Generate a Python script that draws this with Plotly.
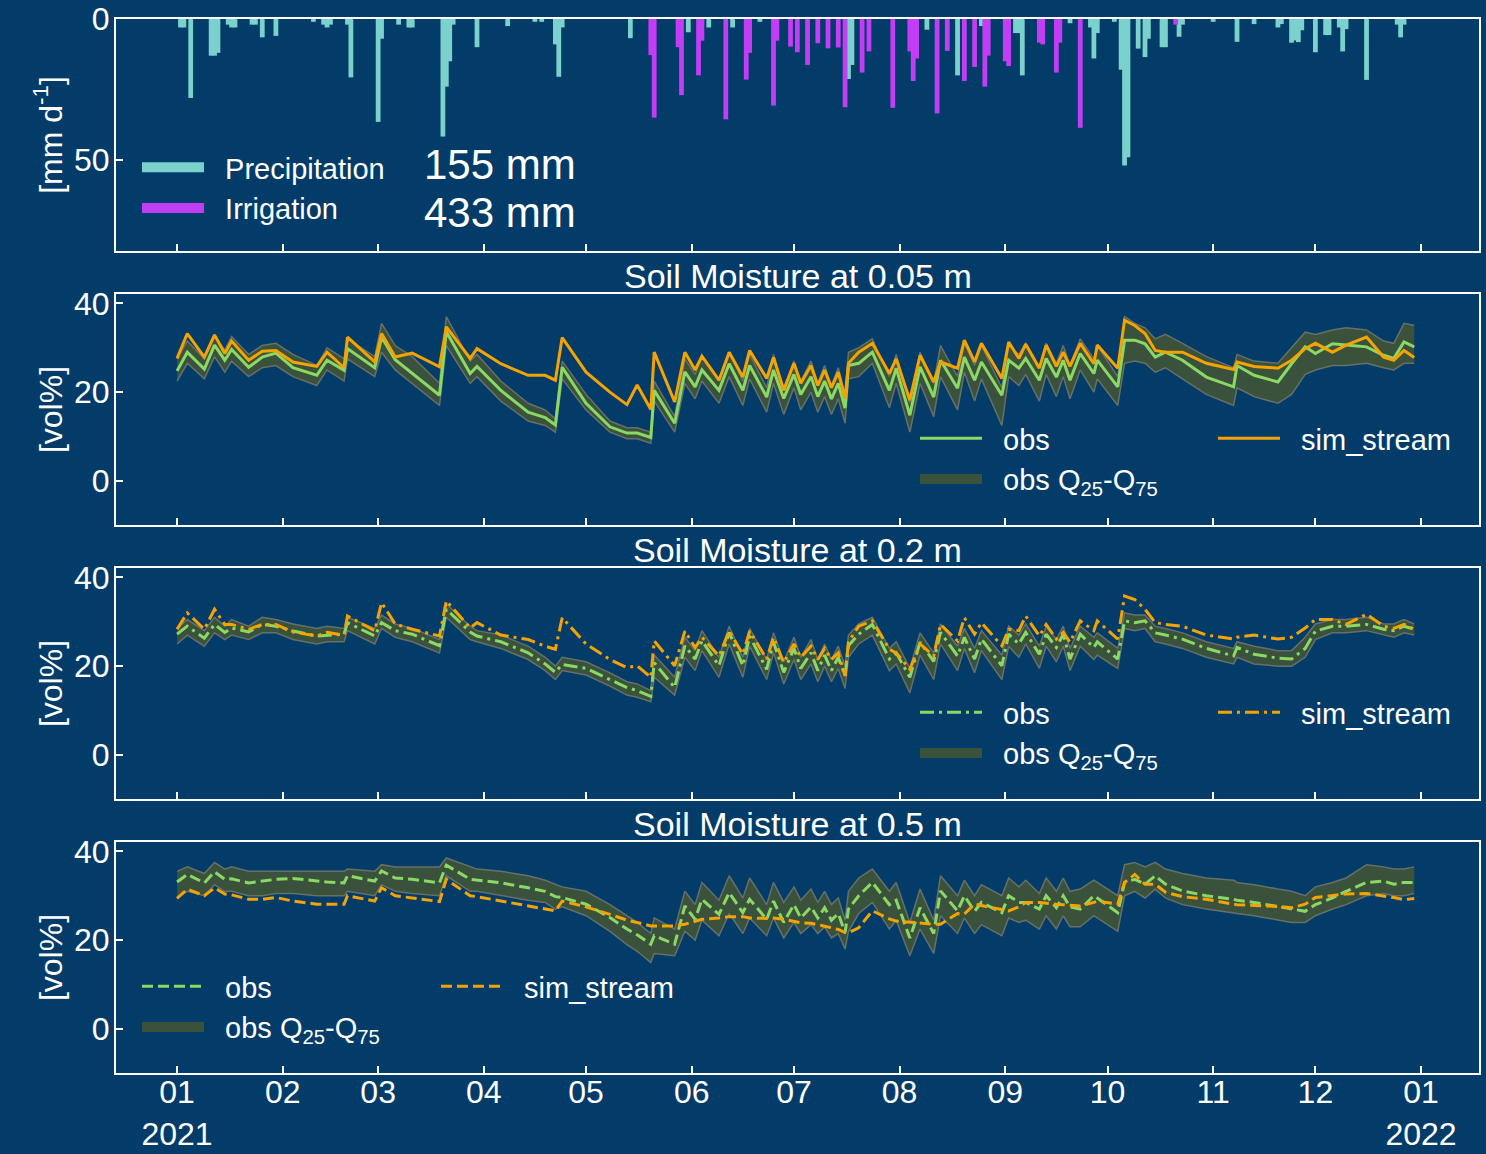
import plotly.graph_objects as go

W, H = 1486, 1154
BG = "#033C69"
FONT = "Liberation Sans, Arial, sans-serif"
WHITE = "#FFFFFF"
C_PREC = "#7BD1CC"
C_IRR = "#C23DF5"
C_OBS = "#8BD865"
C_SIM = "#F5A300"
C_BAND = "#3A513B"
C_EDGE = "#66706A"

# ---------------- daily water input [mm/d] ----------------
prec_days = ["01-02", "01-03", "01-05", "01-11", "01-12", "01-13", "01-16", "01-17", "01-18",
             "01-23", "01-24", "01-26", "01-30", "02-10", "02-13", "02-14", "02-15", "02-20",
             "02-21", "03-01", "03-02", "03-07", "03-10", "03-11", "03-20", "03-21", "03-22",
             "03-23", "03-30", "04-08", "04-16", "04-18", "04-22", "04-23", "04-24", "05-14",
             "05-31", "06-06", "06-13", "06-21", "07-17", "07-18", "08-09", "08-18", "08-25",
             "09-04", "09-05", "09-06", "09-20", "09-26", "09-27", "09-28", "10-03", "10-05",
             "10-06", "10-07", "10-10", "10-12", "10-13", "10-17", "10-18", "10-22", "10-23",
             "11-01", "11-08", "11-13", "11-20", "11-21", "11-24", "11-25", "11-26", "11-27",
             "12-01", "12-04", "12-05", "12-08", "12-09", "12-10", "12-16", "12-25", "12-26",
             "12-27"]
prec_vals = [3, 3, 28, 13, 13, 12, 2, 3, 3,
             2, 2, 6.5, 6, 1, 2, 3, 2, 2,
             20.7, 36.5, 7, 2, 3, 3, 41.7, 24, 15,
             2, 10, 2.5, 1, 1, 9, 20.5, 3, 6.8,
             4.7, 3, 3, 1, 21.3, 16.3, 3.8, 20, 2.5,
             5, 5, 20, 1.5, 3, 14, 5, 1, 18,
             52, 49, 10.5, 13.5, 7, 10, 10, 6.3, 2,
             1, 8.1, 1.8, 3, 1.8, 8.4, 7.6, 8.2, 4,
             11.8, 5.7, 5.7, 3, 11.5, 3.6, 21.6, 2, 6.5,
             2]

irr_days = ["05-20", "05-21", "05-28", "05-29", "06-03", "06-04", "06-11", "06-17", "06-18",
            "06-25", "06-26", "06-30", "07-02", "07-05", "07-08", "07-11", "07-14", "07-16",
            "07-21", "07-23", "07-30", "08-04", "08-05", "08-06", "08-12", "08-15", "08-20",
            "08-23", "08-26", "08-27", "09-01", "09-02", "09-11", "09-12", "09-16", "09-17",
            "09-23", "10-21"]
irr_vals = [12.8, 35, 10, 27, 20, 7.7, 35.6, 21.5, 12,
            30.7, 7.7, 9.8, 11.8, 16.3, 8.6, 10.4, 10.1, 31.3,
            19, 11.5, 31.5, 11.5, 22, 14, 33.5, 11.3, 22,
            17, 24, 13, 15, 16.7, 8.4, 9, 19, 8.4,
            38.6, 2]

# ---------------- soil moisture [vol%] ----------------
sm_days = ["01-01", "01-04", "01-09", "01-12", "01-15", "01-17", "01-22", "01-26", "01-30", "02-04",
           "02-11", "02-14", "02-19", "02-20", "02-28", "03-02", "03-06", "03-11", "03-19", "03-21",
           "03-28", "03-30", "04-06", "04-14", "04-19", "04-22", "04-24", "05-01", "05-08", "05-13",
           "05-16", "05-20", "05-21", "05-27", "05-30", "06-02", "06-04", "06-09", "06-12", "06-16",
           "06-18", "06-23", "06-25", "06-28", "07-01", "07-03", "07-06", "07-08", "07-10", "07-12",
           "07-14", "07-16", "07-17", "07-20", "07-24", "07-29", "07-31", "08-04", "08-07", "08-11",
           "08-13", "08-18", "08-20", "08-23", "08-25", "08-31", "09-02", "09-05", "09-07", "09-11",
           "09-13", "09-16", "09-18", "09-20", "09-23", "09-27", "09-28", "10-04", "10-06", "10-09",
           "10-12", "10-15", "10-18", "10-23", "10-30", "11-07", "11-08", "11-13", "11-20", "11-24",
           "11-28", "12-01", "12-06", "12-10", "12-16", "12-21", "12-24", "12-27", "12-30"]

# 0.05 m
obs_005 = [24.8, 29.0, 25.2, 30.6, 27.2, 29.6, 25.6, 27.9, 28.8, 25.5,
           23.8, 27.2, 24.9, 29.8, 25.5, 32.4, 27.3, 24.3, 19.3, 33.6,
           24.2, 25.8, 20.4, 15.5, 14.3, 12.6, 25.6, 17.5, 12.2, 10.8,
           10.8, 9.8, 20.4, 13.0, 24.6, 21.2, 25.0, 20.4, 26.4, 20.4,
           26.0, 18.9, 25.0, 18.6, 24.0, 19.5, 23.5, 19.0, 22.5, 18.5,
           22.0, 16.4, 26.0, 26.5, 29.0, 20.4, 25.4, 14.8, 25.7, 18.9,
           27.2, 20.9, 27.9, 22.7, 26.8, 19.3, 27.2, 25.4, 27.6, 22.7,
           27.6, 23.4, 27.2, 22.7, 28.7, 24.2, 27.2, 21.2, 31.7, 31.7,
           30.9, 27.9, 29.0, 27.2, 23.4, 21.2, 26.0, 23.8, 22.3, 26.4,
           30.2, 28.7, 30.9, 30.6, 30.2, 28.3, 27.6, 31.3, 30.2]
lo_005 = [22.5, 26.5, 23.0, 28.0, 24.5, 27.0, 23.5, 25.5, 26.0, 23.5,
          21.5, 25.0, 22.5, 27.5, 23.5, 29.0, 25.0, 22.0, 17.0, 30.5,
          22.0, 23.5, 18.0, 13.5, 12.5, 11.0, 23.0, 16.0, 11.0, 9.5,
          9.5, 8.5, 18.0, 11.0, 22.0, 18.5, 22.5, 17.5, 23.5, 17.0,
          23.0, 15.5, 22.0, 15.0, 21.0, 16.0, 20.0, 15.5, 19.0, 15.0,
          18.5, 13.0, 23.0, 23.5, 26.5, 16.5, 22.0, 11.0, 22.0, 14.5,
          23.5, 16.0, 24.5, 18.0, 23.0, 12.5, 23.5, 21.5, 24.0, 18.0,
          24.0, 19.0, 23.5, 18.5, 25.0, 20.0, 23.0, 17.0, 26.5, 27.0,
          26.5, 24.5, 25.5, 23.0, 19.5, 17.0, 21.0, 19.0, 17.5, 19.5,
          24.0, 25.0, 26.0, 26.0, 26.5, 25.5, 25.0, 26.5, 26.5]
hi_005 = [27.5, 31.5, 27.5, 32.5, 29.5, 32.5, 28.5, 30.5, 31.0, 28.5,
          26.0, 30.0, 27.5, 32.0, 28.0, 35.5, 30.5, 28.0, 22.0, 37.0,
          27.0, 28.5, 22.5, 17.5, 16.0, 14.0, 27.0, 19.5, 13.5, 12.0,
          12.0, 11.0, 22.5, 14.5, 27.5, 24.0, 28.0, 22.5, 29.0, 22.5,
          28.5, 21.0, 28.5, 21.0, 27.0, 22.5, 27.0, 22.0, 26.0, 21.5,
          25.5, 19.5, 29.0, 30.0, 32.0, 23.5, 28.5, 17.5, 29.0, 22.0,
          30.5, 23.5, 31.0, 26.0, 30.5, 21.0, 30.5, 28.5, 31.0, 25.5,
          31.0, 26.5, 30.5, 26.0, 32.0, 27.5, 30.5, 23.5, 37.0, 35.5,
          34.5, 32.0, 33.0, 31.0, 28.0, 25.5, 28.5, 27.0, 26.5, 30.0,
          33.5, 33.0, 34.0, 34.5, 34.0, 31.5, 31.0, 35.5, 35.0]
sim_005 = [27.6, 33.2, 27.9, 32.9, 28.7, 31.5, 27.2, 29.2, 29.4, 26.8,
           25.8, 29.0, 25.5, 32.4, 26.8, 33.2, 27.9, 28.8, 25.7, 34.7,
           27.6, 29.8, 26.4, 23.8, 23.8, 22.7, 32.3, 24.5, 20.0, 17.2,
           21.6, 16.1, 29.0, 17.8, 29.0, 25.0, 28.1, 22.7, 29.0, 23.4,
           29.4, 23.1, 27.8, 20.4, 26.5, 22.0, 26.0, 21.5, 25.0, 21.0,
           24.5, 18.6, 26.5, 29.0, 31.0, 24.2, 27.5, 18.2, 28.3, 22.3,
           26.8, 25.4, 31.7, 26.8, 31.0, 23.1, 31.3, 27.6, 30.8, 25.4,
           30.6, 25.8, 29.0, 25.8, 31.0, 26.4, 30.6, 25.4, 36.2, 35.0,
           33.2, 29.4, 29.0, 29.0, 26.5, 25.1, 26.8, 25.8, 25.4, 27.2,
           29.8, 31.0, 29.0, 30.6, 32.4, 27.9, 27.2, 29.4, 27.8]

# 0.2 m
obs_02 = [27.2, 29.0, 26.3, 29.4, 27.6, 28.6, 27.7, 29.4, 29.0, 27.9,
          26.8, 27.0, 27.2, 29.8, 26.8, 29.8, 28.0, 27.2, 24.6, 32.8,
          27.7, 26.8, 25.5, 23.0, 20.5, 18.6, 20.4, 19.5, 17.0, 15.2,
          14.5, 13.2, 20.8, 15.2, 24.6, 21.6, 25.7, 20.1, 27.6, 20.1,
          26.8, 19.3, 25.4, 18.6, 24.0, 19.5, 23.0, 19.0, 22.5, 19.0,
          22.0, 17.8, 24.6, 27.2, 29.4, 21.6, 23.0, 17.5, 25.4, 21.1,
          27.6, 22.3, 26.5, 21.6, 26.1, 20.1, 27.2, 25.0, 27.6, 22.7,
          27.2, 24.2, 27.2, 21.6, 27.2, 24.2, 25.5, 21.6, 30.2, 29.8,
          30.2, 27.5, 27.0, 26.1, 24.0, 22.3, 24.2, 22.7, 21.8, 21.6,
          24.0, 27.9, 29.0, 29.0, 29.4, 28.3, 28.0, 29.0, 28.3]
lo_02 = [25.0, 27.0, 24.5, 27.5, 26.0, 27.0, 26.0, 27.5, 27.5, 26.0,
         25.0, 25.5, 25.5, 28.0, 25.0, 28.5, 26.5, 25.5, 23.0, 31.0,
         26.0, 25.5, 24.0, 21.5, 19.0, 17.0, 19.0, 18.0, 15.5, 13.5,
         13.0, 12.0, 17.5, 13.5, 22.0, 19.0, 23.5, 17.5, 25.0, 17.5,
         24.5, 17.0, 23.0, 16.0, 21.5, 17.0, 20.5, 16.5, 20.0, 16.5,
         19.5, 15.0, 22.0, 25.0, 27.0, 19.0, 20.5, 14.0, 22.5, 17.0,
         25.0, 19.0, 24.0, 18.5, 23.5, 17.0, 24.5, 22.0, 25.0, 19.5,
         24.5, 21.0, 24.5, 19.0, 24.5, 21.5, 22.5, 19.5, 28.5, 28.0,
         28.5, 25.5, 25.0, 24.0, 22.0, 20.5, 22.0, 20.5, 20.0, 20.0,
         22.0, 26.0, 27.5, 27.5, 28.0, 27.0, 26.5, 27.5, 27.0]
hi_02 = [28.5, 30.5, 28.0, 31.0, 29.0, 30.5, 29.0, 31.0, 30.5, 29.5,
         28.5, 29.0, 28.5, 31.0, 28.5, 31.5, 29.5, 28.5, 26.0, 34.0,
         29.0, 28.0, 27.0, 24.5, 22.0, 20.0, 22.0, 21.0, 18.5, 16.5,
         16.0, 14.5, 22.5, 17.5, 26.5, 23.5, 28.0, 22.0, 29.0, 22.0,
         28.5, 21.5, 27.5, 21.0, 26.5, 22.0, 26.0, 21.5, 25.0, 21.5,
         24.5, 20.0, 27.0, 29.5, 31.0, 24.0, 25.5, 19.5, 27.5, 23.0,
         29.5, 24.5, 28.5, 24.0, 28.0, 22.5, 29.0, 27.0, 29.5, 24.5,
         29.0, 26.0, 29.0, 24.0, 29.0, 26.5, 27.5, 24.0, 32.0, 31.5,
         31.5, 29.0, 28.5, 27.5, 25.5, 24.0, 25.5, 24.5, 23.5, 23.5,
         26.5, 29.5, 30.5, 30.5, 31.0, 29.5, 29.5, 30.5, 29.5]
sim_02 = [28.3, 32.0, 28.3, 32.8, 29.4, 29.4, 28.3, 29.4, 29.4, 27.7,
          26.8, 27.6, 27.0, 31.3, 28.0, 34.3, 29.5, 28.3, 26.8, 34.7,
          28.6, 29.8, 27.0, 26.0, 24.5, 23.8, 30.9, 25.0, 21.5, 19.7,
          20.1, 17.5, 25.7, 20.1, 27.9, 24.2, 26.5, 22.3, 27.9, 22.7,
          27.9, 21.6, 26.5, 20.8, 25.0, 22.0, 24.5, 21.5, 24.0, 21.5,
          23.0, 17.8, 25.5, 29.0, 30.2, 23.8, 23.0, 19.3, 25.0, 22.3,
          29.4, 25.7, 30.9, 27.2, 29.8, 24.6, 28.3, 28.0, 31.3, 26.8,
          29.4, 26.1, 27.6, 25.4, 30.2, 28.0, 30.2, 26.1, 35.8, 35.0,
          32.8, 29.8, 29.4, 29.0, 27.0, 26.1, 26.5, 27.0, 26.1, 26.5,
          28.6, 30.5, 30.5, 29.4, 31.7, 29.0, 28.5, 29.4, 28.3]

# 0.5 m
obs_05 = [33.1, 34.8, 32.9, 35.4, 33.7, 33.8, 32.9, 33.3, 33.7, 33.9,
          33.3, 33.1, 32.9, 34.5, 33.3, 35.6, 34.0, 33.7, 32.9, 36.9,
          33.7, 33.5, 32.9, 31.8, 31.0, 29.8, 29.6, 28.1, 25.1, 22.5,
          21.2, 19.1, 21.0, 19.1, 27.7, 24.7, 29.2, 25.8, 30.7, 26.2,
          29.2, 24.7, 28.8, 24.0, 28.0, 25.0, 27.5, 25.0, 27.3, 24.5,
          26.0, 21.7, 27.0, 30.0, 33.0, 28.0, 29.0, 20.5, 27.3, 21.5,
          31.1, 26.6, 30.0, 26.5, 28.5, 26.2, 30.0, 28.5, 28.5, 27.0,
          30.0, 27.3, 30.0, 27.5, 27.0, 30.0, 29.5, 26.2, 33.0, 33.7,
          32.6, 34.5, 32.6, 31.1, 30.0, 29.2, 29.0, 28.5, 27.5, 27.0,
          26.5, 28.0, 29.5, 31.0, 33.0, 33.3, 32.6, 33.0, 33.0]
lo_05 = [29.5, 31.0, 30.0, 32.5, 31.0, 31.0, 30.0, 30.0, 30.5, 30.5,
         30.0, 30.0, 30.0, 31.0, 30.0, 32.5, 31.0, 30.5, 30.0, 34.5,
         31.0, 31.0, 30.0, 29.0, 28.5, 27.0, 27.5, 25.5, 22.0, 19.0,
         17.5, 15.0, 17.0, 16.5, 22.0, 20.0, 24.5, 21.0, 26.0, 21.5,
         25.0, 21.0, 25.0, 20.5, 24.0, 21.5, 23.5, 21.5, 23.0, 20.5,
         21.5, 18.0, 22.0, 26.0, 28.5, 22.5, 24.5, 16.5, 22.5, 17.0,
         25.5, 21.5, 25.0, 21.5, 23.5, 21.0, 25.0, 24.0, 24.5, 22.5,
         25.5, 22.5, 25.5, 23.0, 23.0, 25.5, 25.0, 22.0, 30.0, 31.0,
         29.5, 31.5, 29.5, 28.0, 27.0, 26.0, 26.0, 25.5, 24.5, 24.0,
         24.0, 25.5, 27.0, 28.0, 30.0, 30.5, 30.0, 30.0, 30.5]
hi_05 = [35.5, 36.5, 35.0, 37.5, 36.0, 36.5, 35.5, 35.5, 35.5, 35.5,
         35.5, 35.5, 35.5, 36.0, 35.5, 37.0, 36.5, 36.5, 36.5, 38.5,
         36.5, 36.0, 35.5, 34.5, 33.5, 32.5, 32.0, 31.0, 28.0, 25.5,
         24.0, 21.5, 25.0, 22.5, 31.0, 28.0, 33.0, 29.0, 34.5, 29.5,
         34.0, 28.0, 33.0, 28.5, 32.0, 29.0, 31.5, 28.5, 31.0, 28.0,
         29.5, 24.5, 31.0, 34.0, 36.0, 31.0, 33.0, 24.0, 31.5, 24.5,
         34.5, 30.0, 33.5, 30.0, 32.5, 30.0, 34.0, 32.0, 33.5, 30.5,
         34.0, 31.0, 34.0, 31.0, 31.5, 33.5, 33.0, 30.0, 37.0, 37.5,
         36.5, 37.5, 36.0, 35.0, 34.0, 33.5, 33.0, 32.5, 31.5, 31.0,
         30.0, 32.0, 33.0, 34.0, 37.0, 36.5, 36.0, 36.0, 36.5]
sim_05 = [29.4, 31.5, 30.0, 31.8, 30.4, 30.2, 29.2, 29.2, 29.6, 28.8,
          28.1, 28.1, 28.1, 30.0, 28.8, 31.8, 30.0, 29.5, 28.7, 33.7,
          30.0, 29.8, 28.8, 27.6, 27.0, 26.6, 28.8, 27.5, 25.8, 24.5,
          24.0, 23.2, 23.2, 23.2, 23.6, 24.2, 24.7, 25.0, 25.3, 25.3,
          25.0, 24.9, 25.0, 24.7, 24.3, 23.9, 23.8, 23.5, 23.2, 22.8,
          22.4, 21.7, 21.7, 22.8, 26.6, 24.8, 24.3, 24.0, 23.8, 23.6,
          23.6, 26.0, 25.9, 28.1, 27.8, 27.0, 26.6, 27.5, 28.5, 28.5,
          28.3, 28.1, 28.0, 27.9, 27.7, 28.5, 28.8, 28.1, 33.0, 34.8,
          32.6, 32.6, 30.8, 29.8, 29.2, 28.1, 28.0, 27.8, 27.6, 27.3,
          28.1, 29.6, 30.0, 30.4, 30.5, 30.0, 29.6, 29.1, 29.4]

month_ticks = ["2021-01-01", "2021-02-01", "2021-03-01", "2021-04-01", "2021-05-01", "2021-06-01",
               "2021-07-01", "2021-08-01", "2021-09-01", "2021-10-01", "2021-11-01", "2021-12-01",
               "2022-01-01"]
month_text = ["01<br>2021", "02", "03", "04", "05", "06", "07", "08", "09", "10", "11", "12",
              "01<br>2022"]

totals_text = ["155 mm", "433 mm"]
panel_titles = ["Soil Moisture at 0.05 m", "Soil Moisture at 0.2 m", "Soil Moisture at 0.5 m"]

# ---------------- layout geometry (pixels) ----------------
def px_x(p):
    return p / W

def px_y(p):
    return 1 - p / H

X_DOM = [px_x(116), px_x(1479)]
PANELS = [(19, 251), (294, 525), (568, 799), (842, 1073)]
Y_DOMS = [[px_y(b), px_y(t)] for (t, b) in PANELS]

sm_dates = ["2021-" + d for d in sm_days]
prec_dates = ["2021-" + d for d in prec_days]
irr_dates = ["2021-" + d for d in irr_days]

PAD = "\u00a0\u00a0"   # extra gap between legend swatch and label

fig = go.Figure()
BAR_W = 86400000 * 1.4

fig.add_trace(go.Bar(x=prec_dates, y=prec_vals, width=BAR_W, name="Precipitation",
                     marker=dict(color=C_PREC, line=dict(width=0)), xaxis="x", yaxis="y",
                     showlegend=False))
fig.add_trace(go.Bar(x=irr_dates, y=irr_vals, width=BAR_W, name="Irrigation",
                     marker=dict(color=C_IRR, line=dict(width=0)), xaxis="x", yaxis="y",
                     showlegend=False))
# legend swatches for the bar series
fig.add_trace(go.Scatter(x=[None], y=[None], mode="lines", line=dict(color=C_PREC, width=10),
                         name=PAD + "Precipitation", legend="legend", xaxis="x", yaxis="y"))
fig.add_trace(go.Scatter(x=[None], y=[None], mode="lines", line=dict(color=C_IRR, width=10),
                         name=PAD + "Irrigation", legend="legend", xaxis="x", yaxis="y"))

series = [
    (obs_005, lo_005, hi_005, sim_005, "solid", "x2", "y2", "legend2", "legend3"),
    (obs_02, lo_02, hi_02, sim_02, "14px,5px,3px,5px", "x3", "y3", "legend4", "legend5"),
    (obs_05, lo_05, hi_05, sim_05, "11px,5px", "x4", "y4", "legend6", "legend7"),
]
for obs, lo, hi, sim, dash, xa, ya, lg_a, lg_b in series:
    fig.add_trace(go.Scatter(x=sm_dates, y=lo, mode="lines", line=dict(color=C_EDGE, width=1.5),
                             showlegend=False, hoverinfo="skip", xaxis=xa, yaxis=ya))
    fig.add_trace(go.Scatter(x=sm_dates, y=hi, mode="lines", line=dict(color=C_EDGE, width=1.5),
                             fill="tonexty", fillcolor=C_BAND, showlegend=False,
                             xaxis=xa, yaxis=ya))
    fig.add_trace(go.Scatter(x=sm_dates, y=obs, mode="lines", line=dict(color=C_OBS, width=3, dash=dash),
                             name=PAD + "obs", legend=lg_a, legendrank=1, xaxis=xa, yaxis=ya))
    # legend swatch for the band
    fig.add_trace(go.Scatter(x=[None], y=[None], mode="lines", line=dict(color=C_BAND, width=10),
                             name=PAD + "obs Q<sub>25</sub>-Q<sub>75</sub>", legend=lg_a, legendrank=2,
                             xaxis=xa, yaxis=ya))
    fig.add_trace(go.Scatter(x=sm_dates, y=sim, mode="lines", line=dict(color=C_SIM, width=3, dash=dash),
                             name=PAD + "sim_stream", legend=lg_b, xaxis=xa, yaxis=ya))

X_RANGE = ["2020-12-14 02:00", "2022-01-18 00:00"]
axis_common = dict(showline=True, linecolor=WHITE, linewidth=2, mirror=True, ticks="inside",
                   ticklen=7, tickwidth=2, tickcolor=WHITE, showgrid=False, zeroline=False,
                   automargin=False, tickfont=dict(family=FONT, size=32, color=WHITE))

layout = dict(width=W, height=H, margin=dict(l=0, r=0, t=0, b=0, autoexpand=False),
              paper_bgcolor=BG, plot_bgcolor=BG, barmode="overlay",
              font=dict(family=FONT, color=WHITE), showlegend=True, hovermode=False)

for i in range(4):
    xk = "xaxis" if i == 0 else f"xaxis{i+1}"
    yk = "yaxis" if i == 0 else f"yaxis{i+1}"
    xa = dict(axis_common, domain=X_DOM, type="date", range=X_RANGE, tickvals=month_ticks,
              ticktext=month_text, showticklabels=(i == 3), anchor="y" if i == 0 else f"y{i+1}",
              ticklabelstandoff=-10)
    if i > 0:
        xa["matches"] = "x"
    layout[xk] = xa
    if i == 0:
        ya = dict(axis_common, domain=Y_DOMS[0], range=[82.3, 0], tickvals=[0, 50],
                  title=dict(text="[mm d<sup>-1</sup>]", font=dict(family=FONT, size=32, color=WHITE),
                             standoff=2), anchor="x", ticklabelstandoff=-2)
    else:
        ya = dict(axis_common, domain=Y_DOMS[i], range=[-9.9, 42.1], tickvals=[0, 20, 40],
                  title=dict(text="[vol%]", font=dict(family=FONT, size=32, color=WHITE), standoff=2),
                  anchor=f"x{i+1}", ticklabelstandoff=-2)
    layout[yk] = ya

leg_common = dict(bgcolor="rgba(0,0,0,0)", borderwidth=0, font=dict(family=FONT, size=29, color=WHITE),
                  xanchor="left", yanchor="top", itemwidth=62, traceorder="normal", tracegroupgap=0)
layout["legend"] = dict(leg_common, x=px_x(137), y=px_y(142))
layout["legend2"] = dict(leg_common, x=px_x(915), y=px_y(413))
layout["legend3"] = dict(leg_common, x=px_x(1213), y=px_y(413))
layout["legend4"] = dict(leg_common, x=px_x(915), y=px_y(687))
layout["legend5"] = dict(leg_common, x=px_x(1213), y=px_y(687))
layout["legend6"] = dict(leg_common, x=px_x(137), y=px_y(961))
layout["legend7"] = dict(leg_common, x=px_x(436), y=px_y(961))

annotations = []
for txt, yc in zip(totals_text, [164, 212]):
    annotations.append(dict(text=txt, x=px_x(500), y=px_y(yc), xref="paper", yref="paper",
                            xanchor="center", yanchor="middle", showarrow=False,
                            font=dict(family=FONT, size=42, color=WHITE)))
for txt, (top, _) in zip(panel_titles, PANELS[1:]):
    annotations.append(dict(text=txt, x=px_x(797.5), y=px_y(top - 18), xref="paper", yref="paper",
                            xanchor="center", yanchor="middle", showarrow=False,
                            font=dict(family=FONT, size=34, color=WHITE)))
layout["annotations"] = annotations

fig.update_layout(**layout)
fig.write_html("out.html", post_script="document.body.style.margin='0';",
               config={"displayModeBar": False})
